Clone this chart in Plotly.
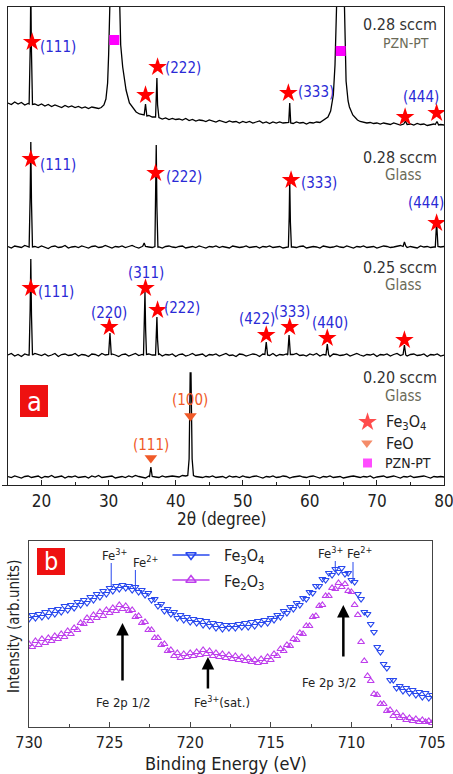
import plotly.graph_objects as go

W, H = 453, 774
FONT = "DejaVu Sans Condensed, Liberation Sans Narrow, Arial Narrow, Roboto, sans-serif"

# ---------------- Panel (a): XRD ----------------
TT_START, TT_STEP = 15.0, 0.5   # background sampling of 2-theta (deg)

bg_028_pzn = [22, 20.5, 23, 21, 22.5, 20, 21.5, 20, 21, 19.5,
              21, 19, 20.5, 18.5, 20, 19, 17.5, 19.5, 18, 19,
              17.5, 18.5, 17, 18, 16.5, 18, 17, 16.5, 18, 17,
              17, 16, 16, 15, 14, 13, 12, 11, 10, 10,
              10.5, 9, 9.5, 8, 7, 7.5, 6, 7, 5.5, 6.5,
              5.5, 6, 5, 6.5, 4.5, 5.5, 4, 5, 4.5, 3.5,
              5, 4, 3, 4.5, 3.5, 2.5, 4, 3, 3.5, 2,
              3.5, 2.5, 3.5, 2, 3, 4, 2, 3, 1.5, 3,
              2, 3, 2, 2.5, 2, 1.5, 3, 2, 2.5, 1,
              2.5, 2, 3, 2.5, 3.5, 4, 5, 6, 7, 8,
              9, 7, 6, 5, 4, 3.5, 3, 2, 2.5, 1.5,
              2, 1, 2, 1.5, 0.5, 2, 1, 0, 1.5, 0.5,
              1, 0, 1.5, 0.5, 1, -0.5, 0.5, 1, 0, 0.5,
              0]
bg_028_glass = [0.5, -1, 1, 0, -0.5, 1.5, 0, -1, 0.5, -0.5,
                1, 0, -1.5, 0.5, 1, -0.5, 0, 1.5, -1, 0,
                0.5, -0.5, 1, 0, -1, 0.5, 1, -0.5, 0, 1.5,
                0, -1, 0.5, 0, 1, -0.5, 0.5, 1.5, 0, -1,
                0.5, 1, 0, -0.5, 1, 0, -1, 0.5, 1, 0,
                -0.5, 0.5, 1, -1, 0, 0.5, -0.5, 1, 0, -1,
                0.5, 0, 1, -0.5, 0.5, 0, -1, 1, 0.5, -0.5,
                0, 1, -0.5, 0, 0.5, -1, 0.5, 0, 1, -0.5,
                0, 0.5, -1, 0, 1, 0, -0.5, 0.5, 1, -1,
                0, 0.5, 0, -1, 1, 0.5, -0.5, 0, 1, 0,
                -0.5, 1, 0, -1, 0.5, 0, 1, -0.5, 0, 0.5,
                -1, 0, 1, 0.5, -0.5, 0, 1, 1.5, 0, -0.5,
                0.5, 0, -1, 1, 0, 0.5, -0.5, 0, 1, 0,
                0.5]
bg_025_glass = [0, 1.5, -1, 0.5, -1.5, 1, 0, -1, 1.5, 0.5,
                -0.5, 1, -1, 0, 1.5, -1.5, 0.5, 1, -0.5, 0,
                1.5, -1, 0.5, 0, -1.5, 1, 0.5, -1, 1.5, 0,
                -0.5, 1, 0, -1.5, 0.5, 1, -1, 0, 1.5, -0.5,
                0.5, -1, 1, 0, -0.5, 1.5, -1, 0.5, 0, 1,
                -1.5, 0.5, 1, -1, 0, 1.5, -0.5, 0, 1, -1.5,
                0.5, 0, 1, -1, 0.5, 1.5, -0.5, 0, -1.5, 1,
                0.5, -1, 0, 1, 0.5, -1.5, 1, 0, -0.5, 1.5,
                -1, 0.5, 0, 1, -1, 0.5, 1.5, -0.5, 0, -1,
                1, 0, 1.5, -1, 0.5, 0, -1.5, 1, 0.5, -0.5,
                0, 1, -1, 0.5, 1.5, 0, -1, 0.5, 0, 1,
                -1.5, 0.5, 0, 1, -1, 0.5, 1.5, -0.5, 0, -1,
                0.5, 1, -0.5, 0, 1, -1.5, 0.5, 0, 1, -1,
                0]
bg_020_glass = [0.5, -0.5, 1, 0, -1, 0.5, 1, -0.5, 0, 1,
                -1, 0.5, 0, 1.5, -0.5, 0, 1, -1, 0.5, 0,
                1, -0.5, 0, 0.5, -1, 1, 0, 1.5, -0.5, 0,
                0.5, 1, -1, 0, 0.5, -0.5, 1, 0, 1.5, 0.5,
                0, -1, 1, 0.5, 0, -0.5, 1, 0, 0.5, 1,
                0.5, 0, 1.5, 1, 2, 1, 0.5, 0, -0.5, 0.5,
                0, 1, -0.5, 0, 0.5, -1, 1, 0, 0.5, -0.5,
                1, 0, -0.5, 0.5, 1, 0, -1, 0.5, 0, 1,
                -0.5, 0, 1, 0.5, -1, 0, 0.5, 1, 0, -0.5,
                0.5, 1, 0, -1, 0.5, 0, 1, -0.5, 0, 0.5,
                -1, 0, 0.5, 1, 0, -0.5, 0.5, 0, 1, -1,
                0, 0.5, 1, -0.5, 0, 1, 0, -1, 0.5, 0,
                1, -0.5, 0, 0.5, 1, 0, -1, 0.5, 0, 0.5,
                0]

# peak profiles: lists of (2theta, intensity)
peaks_028_pzn = [
    [(18.15, 21), (18.32, 80), (18.4, 140), (18.48, 80), (18.65, 20.5)],
    [(28.9, 17.5), (29.3, 20), (29.6, 26), (29.85, 42), (30.0, 70), (30.15, 130),
     (30.5, 250), (30.85, 300), (31.2, 250), (31.6, 130), (31.8, 80), (32.1, 58),
     (32.6, 35), (33.1, 22), (33.6, 17), (34.1, 13), (34.6, 11)],
    [(35.3, 10), (35.5, 21), (35.7, 9)],
    [(37.0, 8), (37.1, 25), (37.2, 47), (37.3, 20), (37.45, 7.5)],
    [(56.85, 2.5), (57.0, 22), (57.15, 2)],
    [(62.0, 4.5), (62.7, 8), (63.1, 14), (63.5, 30), (63.75, 60), (63.95, 110),
     (64.2, 200), (64.55, 260), (64.9, 200), (65.15, 110), (65.4, 44), (65.7, 24),
     (65.9, 18), (66.4, 10), (67.1, 5)],
    [(74.0, 1), (74.25, 4), (74.5, 0.5)],
    [(78.7, 0.5), (78.95, 3.5), (79.2, 0)],
]
peaks_028_glass = [
    [(18.15, 0), (18.3, 50), (18.4, 105), (18.5, 45), (18.65, 0)],
    [(35.1, 1), (35.3, 4), (35.5, 0.5)],
    [(36.9, 0.5), (37.0, 45), (37.1, 102), (37.2, 40), (37.35, 0)],
    [(56.8, 0), (56.92, 30), (57.0, 67), (57.1, 25), (57.25, 0)],
    [(73.9, 0.5), (74.1, 5), (74.3, 1)],
    [(78.7, 0), (78.9, 25), (79.1, 0.5)],
]
peaks_025_glass = [
    [(18.15, 0), (18.3, 45), (18.4, 96), (18.5, 40), (18.65, 0)],
    [(30.0, 0.5), (30.2, 22), (30.4, 0)],
    [(35.2, 0), (35.32, 30), (35.42, 63), (35.52, 25), (35.65, 0.5)],
    [(37.0, 0), (37.12, 18), (37.2, 38), (37.3, 15), (37.45, 0)],
    [(53.3, 0.5), (53.5, 13), (53.7, 0)],
    [(56.7, 0), (56.9, 20), (57.1, 0.5)],
    [(62.4, 0), (62.6, 11), (62.8, 0.5)],
    [(73.9, 0.5), (74.1, 10), (74.3, 0)],
]
peaks_020_glass = [
    [(36.1, 0.5), (36.3, 10), (36.5, 0.5)],
    [(41.8, 1.5), (42.0, 18), (42.1, 70), (42.16, 104), (42.28, 104), (42.35, 70),
     (42.45, 18), (42.65, 1.5)],
]
xrd_offsets = [360, 238, 130, 8]

# marker positions (2theta, plotted height)
fe3o4_x = [18.6, 35.5, 37.3, 56.8, 74.2, 78.9, 18.4, 37.0, 57.2, 78.9,
           18.4, 30.1, 35.5, 37.3, 53.5, 57.0, 62.6, 74.1]
fe3o4_y = [443, 390, 418, 392, 368, 372, 326, 312, 305, 262,
           197, 158, 197, 175, 150, 158, 147, 145]
feo_x = [36.3, 42.2]
feo_y = [27, 69]
pzn_x = [30.85, 64.6]
pzn_y = [445, 434]

hkl_text = ["(111)", "(222)", "(333)", "(444)", "(111)", "(222)", "(333)", "(444)",
            "(111)", "(220)", "(311)", "(222)", "(422)", "(333)", "(440)"]
hkl_x = [22.5, 41.1, 60.9, 76.5, 22.5, 41.3, 61.3, 77.3, 22.2, 30.1, 35.5, 40.9, 52.1, 57.3, 63.0]
hkl_y = [438, 417, 393, 388, 320, 308, 302, 282, 193, 172, 212, 177, 166, 173, 162]
feo_lbl = ["(111)", "(100)"]
feo_lbl_x = [36.3, 42.2]
feo_lbl_y = [40, 85]

sample_rate = ["0.28 sccm", "0.28 sccm", "0.25 sccm", "0.20 sccm"]
sample_sub = ["PZN-PT", "Glass", "Glass", "Glass"]
sample_rate_y = [461, 328, 218, 108]
sample_sub_y = [442, 310, 200, 89]

# ---------------- Panel (b): XPS ----------------
BE_START, BE_STEP = 730.0, -0.2
xps_fe3o4 = [108, 112, 109, 113, 110, 115, 111, 117, 113, 118,
             115, 121, 117, 122, 119, 125, 122, 127, 124, 130,
             127, 133, 130, 136, 133, 139, 136, 141, 138, 142,
             139, 141, 137, 140, 135, 137, 132, 134, 127, 128,
             121, 123, 116, 118, 113, 115, 109, 112, 107, 110,
             105, 108, 104, 107, 102, 106, 101, 104, 99, 103,
             98, 102, 99, 102, 99, 103, 100, 104, 100, 105,
             101, 106, 103, 107, 104, 109, 107, 112, 110, 116,
             114, 120, 118, 124, 122, 129, 128, 135, 134, 141,
             141, 148, 147, 154, 152, 158, 155, 159, 153, 154,
             147, 145, 133, 128, 115, 113, 103, 95, 80, 75,
             63, 59, 47, 47, 39, 41, 36, 39, 34, 37,
             32, 35, 30, 34, 29, 32]
xps_fe2o3 = [83, 80, 86, 82, 88, 84, 89, 86, 91, 88,
             93, 90, 96, 93, 99, 97, 104, 103, 109, 106,
             112, 109, 115, 111, 117, 114, 119, 116, 122, 118,
             121, 116, 117, 110, 111, 104, 105, 97, 97, 89,
             89, 82, 83, 76, 77, 71, 74, 69, 73, 70,
             74, 71, 75, 72, 77, 73, 76, 71, 74, 70,
             73, 69, 72, 68, 71, 67, 70, 66, 69, 65,
             67, 64, 68, 65, 70, 67, 73, 71, 78, 76,
             82, 81, 88, 87, 94, 93, 101, 101, 110, 111,
             121, 122, 131, 131, 139, 138, 144, 140, 143, 136,
             135, 122, 112, 85, 66, 51, 46, 33, 32, 23,
             23, 16, 17, 11, 14, 9, 11, 7, 9, 6,
             8, 5, 7, 5, 6, 4]

fe_ion_lbl = ["Fe<sup>3+</sup>", "Fe<sup>2+</sup>", "Fe<sup>3+</sup>", "Fe<sup>2+</sup>"]
fe_ion_lbl_x = [724.7, 722.8, 711.3, 709.5]
fe_ion_lbl_y = [172, 165, 174, 174]
fe_tick_x = [724.9, 723.4, 711.0, 709.9]
fe_tick_y0 = [141, 139, 157, 147]
fe_tick_y1 = [164, 157, 166, 165]

arrow_lbl = ["Fe 2p 1/2", "Fe<sup>3+</sup>(sat.)", "Fe 2p 3/2"]
arrow_x = [724.2, 718.9, 710.5]
arrow_tail_y = [45, 37, 69]
arrow_head_y = [104, 70, 122]
arrow_lbl_x = [724.2, 718.0, 711.4]
arrow_lbl_y = [25, 25, 45]

BLUE = "rgb(40,72,238)"
MAG = "rgb(190,62,236)"
HKL = "#2a2ad6"
ORANGE = "#f05a28"


def build(bg, peaks, offset):
    pts = [(TT_START + TT_STEP * i, v) for i, v in enumerate(bg)]
    for pk in peaks:
        lo, hi = pk[0][0], pk[-1][0]
        pts = [p for p in pts if not (lo <= p[0] <= hi)]
        pts += pk
    pts.sort()
    return [p[0] for p in pts], [p[1] + offset for p in pts]


fig = go.Figure()

for bg, pk, off in zip([bg_028_pzn, bg_028_glass, bg_025_glass, bg_020_glass],
                       [peaks_028_pzn, peaks_028_glass, peaks_025_glass, peaks_020_glass],
                       xrd_offsets):
    xs, ys = build(bg, pk, off)
    fig.add_trace(go.Scatter(x=xs, y=ys, mode="lines", line=dict(color="black", width=1.3),
                             xaxis="x", yaxis="y", showlegend=False, hoverinfo="skip"))

fig.add_trace(go.Scatter(x=fe3o4_x, y=fe3o4_y, mode="markers",
                         marker=dict(symbol="star", size=14, color="red", line=dict(width=0)),
                         xaxis="x", yaxis="y", showlegend=False))
fig.add_trace(go.Scatter(x=feo_x, y=feo_y, mode="markers",
                         marker=dict(symbol="triangle-down", size=11, color=ORANGE, line=dict(width=0)),
                         xaxis="x", yaxis="y", showlegend=False))
fig.add_trace(go.Scatter(x=pzn_x, y=pzn_y, mode="markers",
                         marker=dict(symbol="square", size=10, color="#ff00ff", line=dict(width=0)),
                         xaxis="x", yaxis="y", showlegend=False))

# legend of panel (a)
leg_a_x = [68.6, 68.5, 68.6]
leg_a_y = [63, 42, 22]
leg_a_sym = ["star", "triangle-down", "square"]
leg_a_col = ["red", ORANGE, "#ff00ff"]
leg_a_size = [14, 10, 9]
leg_a_txt = ["Fe<sub>3</sub>O<sub>4</sub>", "FeO", "PZN-PT"]
leg_a_txt_x = [71.1, 71.1, 70.9]
leg_a_txt_size = [16, 16, 14]
fig.add_trace(go.Scatter(x=leg_a_x, y=leg_a_y, mode="markers",
                         marker=dict(symbol=leg_a_sym, size=leg_a_size, color=leg_a_col, line=dict(width=0)),
                         xaxis="x", yaxis="y", showlegend=False))

# XPS traces
be = [BE_START + BE_STEP * i for i in range(len(xps_fe3o4))]
fig.add_trace(go.Scatter(x=be, y=xps_fe3o4, mode="markers",
                         marker=dict(symbol="triangle-down-open", size=6, color=BLUE, line=dict(width=1.2)),
                         xaxis="x2", yaxis="y2", showlegend=False))
fig.add_trace(go.Scatter(x=be, y=xps_fe2o3, mode="markers",
                         marker=dict(symbol="triangle-up-open", size=6, color=MAG, line=dict(width=1.2)),
                         xaxis="x2", yaxis="y2", showlegend=False))

# legend of panel (b)
leg_b_y = [172, 147]
leg_b_col = [BLUE, MAG]
leg_b_sym = ["triangle-down-open", "triangle-up-open"]
leg_b_txt = ["Fe<sub>3</sub>O<sub>4</sub>", "Fe<sub>2</sub>O<sub>3</sub>"]
for yy, cc, ss in zip(leg_b_y, leg_b_col, leg_b_sym):
    fig.add_trace(go.Scatter(x=[721.1, 718.8], y=[yy, yy], mode="lines", line=dict(color=cc, width=1.5),
                             xaxis="x2", yaxis="y2", showlegend=False))
    fig.add_trace(go.Scatter(x=[719.95], y=[yy], mode="markers",
                             marker=dict(symbol=ss, size=9, color=cc, line=dict(width=1.5)),
                             xaxis="x2", yaxis="y2", showlegend=False))

# ion tick lines
for tx, y0, y1 in zip(fe_tick_x, fe_tick_y0, fe_tick_y1):
    fig.add_trace(go.Scatter(x=[tx, tx], y=[y0, y1], mode="lines", line=dict(color=BLUE, width=1),
                             xaxis="x2", yaxis="y2", showlegend=False))


def txt(text, x, y, xref, yref, size, color, xanchor="center", angle=0):
    return dict(text=text, x=x, y=y, xref=xref, yref=yref, showarrow=False,
                xanchor=xanchor, yanchor="middle", textangle=angle,
                font=dict(size=size, color=color, family=FONT))


ann = []
for t, x, y in zip(hkl_text, hkl_x, hkl_y):
    ann.append(txt(t, x, y, "x", "y", 15, HKL))
for t, x, y in zip(feo_lbl, feo_lbl_x, feo_lbl_y):
    ann.append(txt(t, x, y, "x", "y", 15, ORANGE))
for t, y in zip(sample_rate, sample_rate_y):
    ann.append(txt(t, 73.4, y, "x", "y", 16, "#333333"))
for t, y in zip(sample_sub, sample_sub_y):
    ann.append(txt(t, 74.4 if t == "PZN-PT" else 73.9, y, "x", "y",
                   14 if t == "PZN-PT" else 15, "#6b6b58"))
for t, x, y, s in zip(leg_a_txt, leg_a_txt_x, leg_a_y, leg_a_txt_size):
    ann.append(txt(t, x, y, "x", "y", s, "#222222", xanchor="left"))
ann.append(txt("2θ (degree)", 221 / W, 1 - 519 / H, "paper", "paper", 17, "#222222"))

for t, x, y in zip(fe_ion_lbl, fe_ion_lbl_x, fe_ion_lbl_y):
    ann.append(txt(t, x, y, "x2", "y2", 13, "#222222"))
for t, y in zip(leg_b_txt, [171, 145]):
    ann.append(txt(t, 718.0, y, "x2", "y2", 16, "#222222", xanchor="left"))
for x, yt, yh in zip(arrow_x, arrow_tail_y, arrow_head_y):
    ann.append(dict(text="", x=x, y=yh, ax=x, ay=yt, xref="x2", yref="y2", axref="x2", ayref="y2",
                    showarrow=True, arrowhead=2, arrowsize=1, arrowwidth=2.5, arrowcolor="black"))
for t, x, y in zip(arrow_lbl, arrow_lbl_x, arrow_lbl_y):
    ann.append(txt(t, x, y, "x2", "y2", 13, "#222222"))
ann.append(txt("Binding Energy (eV)", 226 / W, 1 - 763 / H, "paper", "paper", 18, "#222222"))
ann.append(txt("Intensity (arb.units)", 14 / W, 1 - 627 / H, "paper", "paper", 15, "#222222", angle=-90))
ann.append(txt("a", 34 / W, 1 - 401 / H, "paper", "paper", 27, "white"))
ann.append(txt("b", 51 / W, 1 - 561 / H, "paper", "paper", 25, "white"))

shapes = [
    dict(type="rect", xref="paper", yref="paper", x0=20 / W, x1=48 / W, y0=1 - 417 / H, y1=1 - 385 / H,
         fillcolor="#ee1111", line=dict(width=0), layer="below"),
    dict(type="rect", xref="paper", yref="paper", x0=37 / W, x1=65 / W, y0=1 - 575 / H, y1=1 - 548 / H,
         fillcolor="#ee1111", line=dict(width=0), layer="below"),
]

fig.update_layout(
    width=W, height=H, margin=dict(l=0, r=0, t=0, b=0, autoexpand=False),
    paper_bgcolor="white", plot_bgcolor="rgba(0,0,0,0)",
    font=dict(family=FONT, color="#222222"),
    showlegend=False,
    annotations=ann, shapes=shapes,
    xaxis=dict(domain=[8 / W, 444 / W], range=[15, 80], anchor="y", automargin=False,
               tickvals=[20, 30, 40, 50, 60, 70, 80], ticks="inside", ticklen=5, tickwidth=1,
               tickcolor="#222222", ticklabeloverflow="allow",
               minor=dict(tickvals=[25, 35, 45, 55, 65, 75], ticks="inside", ticklen=3, tickcolor="#222222"),
               showline=True, linecolor="#222222", linewidth=1.2, mirror=True,
               showgrid=False, zeroline=False, tickfont=dict(size=17, family=FONT, color="#222222")),
    yaxis=dict(domain=[1 - 485 / H, 1 - 7 / H], range=[0, 478], anchor="x", automargin=False,
               tickvals=[0], ticks="outside", ticklen=5, tickcolor="#222222", showticklabels=False,
               showline=True, linecolor="#222222", linewidth=1.2, mirror=True,
               showgrid=False, zeroline=False),
    xaxis2=dict(domain=[29 / W, 432 / W], range=[730, 705], anchor="y2", automargin=False,
                tickvals=[730, 725, 720, 715, 710, 705], ticks="inside", ticklen=5, tickwidth=1,
                tickcolor="#444444", ticklabeloverflow="allow",
                minor=dict(tickvals=[727.5, 722.5, 717.5, 712.5, 707.5], ticks="inside", ticklen=3,
                           tickcolor="#444444"),
                showline=True, linecolor="#444444", linewidth=1.2, mirror=True,
                showgrid=False, zeroline=False, ticklabelstandoff=1,
                tickfont=dict(size=16, family=FONT, color="#222222")),
    yaxis2=dict(domain=[1 - 727 / H, 1 - 541 / H], range=[0, 186], anchor="x2", automargin=False,
                showticklabels=False, ticks="",
                showline=True, linecolor="#444444", linewidth=1.2, mirror=True,
                showgrid=False, zeroline=False),
)

fig.write_html("out.html")
